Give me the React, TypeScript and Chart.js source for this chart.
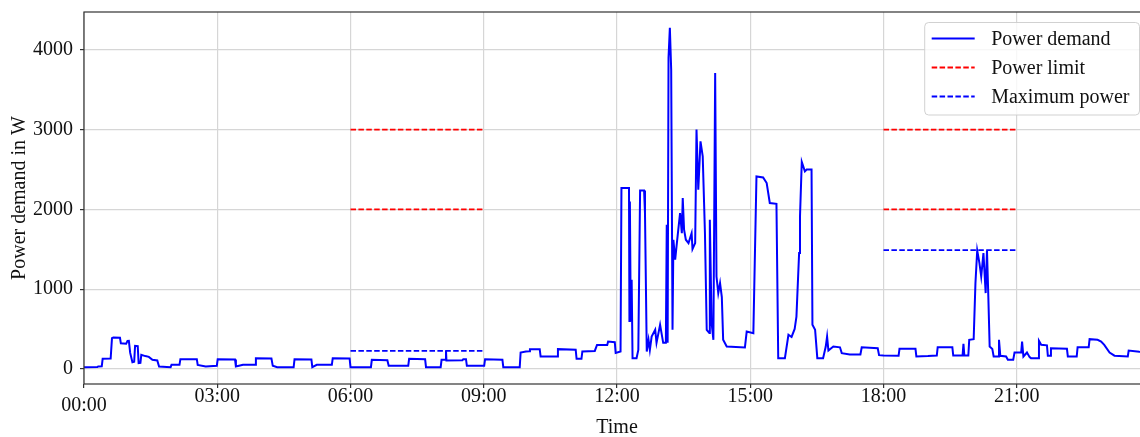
import React, { useEffect, useRef } from 'react';
import { Chart, registerables } from 'chart.js';

Chart.register(...registerables);

const FONT = "'Liberation Serif', 'Times New Roman', serif";

// Power demand (hours since midnight, watts)
const demandHours = [
  0.00, 0.30, 0.32, 0.40, 0.42, 0.60, 0.63, 0.66, 0.81, 0.83, 0.95, 0.98, 1.01, 1.04, 1.09, 1.13, 1.15, 1.21, 1.23, 1.27,
  1.29, 1.38, 1.46, 1.54, 1.65, 1.69, 1.95, 1.97, 2.15, 2.17, 2.54, 2.56, 2.74, 2.99, 3.01, 3.40, 3.42, 3.58, 3.85, 3.87,
  4.22, 4.25, 4.35, 4.72, 4.74, 5.12, 5.14, 5.24, 5.58, 5.60, 5.98,
  6.00, 6.46, 6.48, 6.83, 6.86, 7.30, 7.32, 7.68, 7.70, 8.03, 8.05, 8.14, 8.15, 8.16, 8.52, 8.54, 8.60, 8.62, 9.01, 9.03,
  9.42, 9.44, 9.81, 9.83, 9.95, 10.02, 10.04, 10.26, 10.28, 10.65, 10.67, 11.07, 11.09, 11.20, 11.22, 11.50, 11.55, 11.78,
  11.80, 11.95, 11.97, 12.08,
  12.10, 12.27, 12.28, 12.29, 12.31, 12.33, 12.35, 12.44, 12.48, 12.52, 12.61, 12.63, 12.67, 12.71, 12.74, 12.78, 12.86,
  12.89, 12.97, 13.04, 13.10, 13.12, 13.14, 13.16, 13.19, 13.22, 13.25, 13.27, 13.31, 13.34, 13.38, 13.42, 13.46, 13.48,
  13.51, 13.55, 13.61, 13.68, 13.70, 13.76, 13.79, 13.83, 13.88, 13.93, 13.98, 14.02, 14.08, 14.09, 14.13, 14.17, 14.21,
  14.24, 14.28, 14.32, 14.36, 14.39, 14.47, 14.88, 14.92, 15.07, 15.14, 15.29, 15.37, 15.44, 15.59, 15.63, 15.78, 15.86,
  15.93, 16.00, 16.04, 16.10, 16.12, 16.16, 16.23, 16.27, 16.38, 16.40, 16.46, 16.51, 16.64, 16.70, 16.73, 16.76, 16.87,
  17.02, 17.06, 17.24, 17.48, 17.51, 17.87,
  17.90, 18.00, 18.34, 18.36, 18.72, 18.74, 19.00, 19.20, 19.22, 19.55, 19.57, 19.78, 19.80, 19.82, 19.91, 19.93, 20.03,
  20.07, 20.11, 20.16, 20.20, 20.25, 20.30, 20.33, 20.36, 20.39, 20.45, 20.48, 20.58, 20.60, 20.63, 20.76, 20.80, 20.92,
  20.95, 21.10, 21.12, 21.15, 21.23, 21.29, 21.32, 21.48, 21.50, 21.55, 21.68, 21.70, 21.75, 21.77, 22.13, 22.15, 22.35,
  22.37, 22.62, 22.64, 22.82, 22.90, 22.97, 23.09, 23.20, 23.50, 23.52, 23.76, 23.85,
];
const demandWatts = [
  20, 22, 30, 32, 126, 128, 385, 393, 390, 320, 315, 350, 352, 200, 84, 90, 289, 285, 71, 75,
  176, 160, 150, 113, 105, 29, 21, 50, 50, 121, 121, 50, 29, 38, 121, 118, 29, 50, 50, 134,
  130, 38, 21, 21, 121, 118, 21, 50, 50, 134, 130,
  21, 21, 113, 108, 38, 38, 126, 120, 21, 21, 113, 113, 230, 105, 108, 121, 121, 38, 38, 121,
  115, 21, 21, 205, 218, 220, 247, 247, 155, 155, 247, 240, 126, 126, 218, 225, 300, 300,
  343, 335, 200, 217,
  2268, 2268, 600, 2100, 594, 1117, 134, 134, 238, 2238, 2238, 1954, 217, 364, 238, 405, 490,
  326, 552, 326, 326, 1807, 326, 3900, 4276, 3752, 490, 1619, 1368, 1535, 1745, 1954, 1700, 2142,
  1745, 1619, 1577, 1700, 1503, 1577, 3000, 2246, 2853, 2664, 1703, 490, 448, 1870, 575, 364, 3711,
  1158, 950, 1075, 900, 364, 280, 268, 468, 448, 2413, 2400, 2330, 2080, 2070, 134, 134, 427,
  400, 500, 656, 1452, 1911, 2594, 2476, 2500, 2500, 552, 490, 134, 134, 280, 405, 230, 280,
  270, 197, 180, 180, 270, 259,
  172, 168, 165, 251, 251, 155, 160, 167, 272, 272, 167, 167, 314, 167, 167, 364, 372,
  1075, 1485, 1326, 1158, 1452, 950, 1485, 907, 280, 250, 155, 155, 364, 163, 155, 113, 113,
  205, 205, 343, 155, 205, 147, 134, 134, 351, 301, 295, 165, 165, 259, 251, 155, 155,
  272, 272, 372, 365, 343, 301, 205, 165, 155, 230, 213, 210,
];

// Power limit windows
const limitStart = [6, 6, 18, 18];
const limitEnd = [9, 9, 21, 21];
const limitWatts = [3000, 2000, 3000, 2000];

// Maximum power windows
const maxStart = [6, 18];
const maxEnd = [9, 21];
const maxWatts = [225, 1490];

const xTickHours = [0, 3, 6, 9, 12, 15, 18, 21];
const xTickLabels = ['00:00', '03:00', '06:00', '09:00', '12:00', '15:00', '18:00', '21:00'];
const yTickValues = [0, 1000, 2000, 3000, 4000];

const seriesNames = ['Power demand', 'Power limit', 'Maximum power'];
const seriesColors = ['#0000ff', '#ff0000', '#0000ff'];
const DASH = [5.5, 2.4];

function segments(starts: number[], ends: number[], vals: number[]) {
  const pts: { x: number; y: number | null }[] = [];
  starts.forEach((s, i) => {
    pts.push({ x: s, y: vals[i] });
    pts.push({ x: ends[i], y: vals[i] });
    pts.push({ x: ends[i], y: null });
  });
  return pts;
}

const framePlugin = {
  id: 'frame',
  afterDatasetsDraw(chart: any) {
    const { ctx, chartArea } = chart;
    ctx.save();
    ctx.strokeStyle = '#333';
    ctx.lineWidth = 1.2;
    ctx.strokeRect(chartArea.left, chartArea.top, chartArea.right - chartArea.left, chartArea.bottom - chartArea.top);
    ctx.restore();
  },
};

const legendPlugin = {
  id: 'mplLegend',
  afterDraw(chart: any) {
    const { ctx, chartArea } = chart;
    ctx.save();
    ctx.font = `20px ${FONT}`;
    const textW = Math.max(...seriesNames.map((n) => ctx.measureText(n).width));
    const padL = 7;
    const handle = 43;
    const gap = 16.5;
    const padR = 10;
    const right = chartArea.right - 10.5;
    const top = chartArea.top + 10.5;
    const w = padL + handle + gap + textW + padR;
    const left = right - w;
    const h = 92.5;
    ctx.beginPath();
    if ((ctx as any).roundRect) (ctx as any).roundRect(left, top, w, h, 4);
    else ctx.rect(left, top, w, h);
    ctx.fillStyle = 'rgba(255,255,255,0.8)';
    ctx.fill();
    ctx.strokeStyle = 'rgba(204,204,204,0.9)';
    ctx.lineWidth = 1;
    ctx.stroke();
    seriesNames.forEach((name, i) => {
      const y = top + 16 + i * 29;
      ctx.beginPath();
      ctx.setLineDash(i === 0 ? [] : DASH);
      ctx.strokeStyle = seriesColors[i];
      ctx.lineWidth = i === 0 ? 2 : 1.8;
      ctx.moveTo(left + padL, y);
      ctx.lineTo(left + padL + handle, y);
      ctx.stroke();
      ctx.setLineDash([]);
      ctx.fillStyle = '#111';
      ctx.textBaseline = 'middle';
      ctx.textAlign = 'left';
      ctx.fillText(name, left + padL + handle + gap, y + 1);
    });
    ctx.restore();
  },
};

export default function App() {
  const canvasRef = useRef<HTMLCanvasElement | null>(null);

  useEffect(() => {
    document.body.style.margin = '0';
    const canvas = canvasRef.current;
    if (!canvas) return;
    const chart = new Chart(canvas, {
      type: 'line',
      data: {
        datasets: [
          {
            label: seriesNames[0],
            data: demandHours.map((hr, i) => ({ x: hr, y: demandWatts[i] })),
            borderColor: seriesColors[0],
            borderWidth: 2,
            pointRadius: 0,
            tension: 0,
            fill: false,
            order: 3,
          },
          {
            label: seriesNames[1],
            data: segments(limitStart, limitEnd, limitWatts),
            borderColor: seriesColors[1],
            borderWidth: 1.8,
            borderDash: DASH,
            pointRadius: 0,
            spanGaps: false,
            fill: false,
            order: 2,
          },
          {
            label: seriesNames[2],
            data: segments(maxStart, maxEnd, maxWatts),
            borderColor: seriesColors[2],
            borderWidth: 1.8,
            borderDash: DASH,
            pointRadius: 0,
            spanGaps: false,
            fill: false,
            order: 1,
          },
        ],
      },
      options: {
        responsive: false,
        animation: false,
        devicePixelRatio: 1,
        layout: { padding: { top: 12, left: 0, right: 0, bottom: 0 } },
        plugins: { legend: { display: false }, tooltip: { enabled: false } },
        scales: {
          x: {
            type: 'linear',
            min: 0,
            max: 24,
            afterBuildTicks: (scale: any) => {
              scale.ticks = xTickHours.map((v) => ({ value: v }));
            },
            afterFit: (scale: any) => {
              scale.height = 53;
              scale.paddingLeft = 0;
              scale.paddingRight = 0;
            },
            border: { display: false },
            grid: { color: '#d6d6d6', lineWidth: 1.2, tickLength: 4, tickColor: '#333', tickWidth: 1.2 },
            ticks: {
              autoSkip: false,
              maxRotation: 0,
              minRotation: 0,
              padding: 0,
              color: '#111',
              font: (c: any) => ({ family: FONT, size: 20, lineHeight: c.index === 0 ? 1.8 : 0.86 }),
              callback: (v: any) => {
                const i = xTickHours.indexOf(Number(v));
                return i >= 0 ? xTickLabels[i] : '';
              },
            },
            title: {
              display: true,
              text: 'Time',
              color: '#111',
              font: { family: FONT, size: 20, lineHeight: 0.9 },
              padding: { top: 0, bottom: 0 },
            },
          },
          y: {
            type: 'linear',
            min: -190,
            max: 4475,
            afterBuildTicks: (scale: any) => {
              scale.ticks = yTickValues.map((v) => ({ value: v }));
            },
            afterFit: (scale: any) => {
              scale.width = 84;
              scale.paddingTop = 0;
              scale.paddingBottom = 0;
            },
            border: { display: false },
            grid: { color: '#d6d6d6', lineWidth: 1.2, tickLength: 4, tickColor: '#333', tickWidth: 1.2 },
            ticks: {
              padding: 7,
              color: '#111',
              font: { family: FONT, size: 20 },
              callback: (v: any) => String(v),
            },
            title: {
              display: true,
              text: 'Power demand in W',
              color: '#111',
              font: { family: FONT, size: 20, lineHeight: 1.2 },
              padding: { top: 8, bottom: 0 },
            },
          },
        },
      },
      plugins: [framePlugin, legendPlugin],
    } as any);
    return () => chart.destroy();
  }, []);

  return (
    <div style={{ width: 1140, height: 437, overflow: 'hidden', position: 'relative' }}>
      <canvas ref={canvasRef} width={1150} height={437} style={{ display: 'block' }} />
    </div>
  );
}
